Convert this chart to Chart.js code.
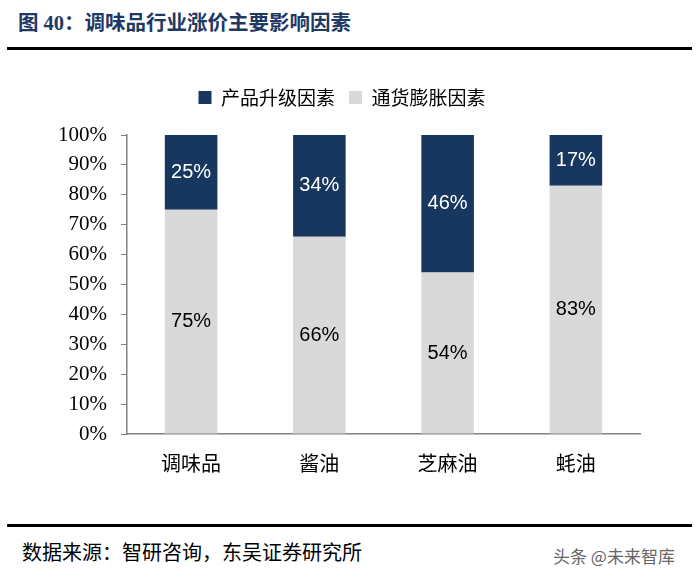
<!DOCTYPE html>
<html>
<head>
<meta charset="utf-8">
<script src="https://cdn.jsdelivr.net/npm/chart.js@4"></script>
<style>
  body { margin: 0; width: 700px; height: 583px; background: #fff; position: relative; overflow: hidden; }
  #title { position: absolute; left: 18px; top: 6px; font: bold 20.5px "Liberation Serif", "Noto Sans CJK SC", serif; color: #1f3864; }
  .rule { position: absolute; left: 7px; width: 685px; height: 3px; background: #000; }
  #wrap { position: absolute; left: 0; top: 74px; width: 700px; height: 418px; }
  #source { position: absolute; left: 22px; top: 537px; font: 20px "Noto Sans CJK SC", serif; color: #000; }
  #mark { position: absolute; left: 553px; top: 543px; font: 17px "Noto Sans CJK SC", sans-serif; color: #666; }
</style>
</head>
<body>
<div id="title">图 40：调味品行业涨价主要影响因素</div>
<div class="rule" style="top:47px"></div>
<div id="wrap"><canvas id="chart"></canvas></div>
<div class="rule" style="top:524px"></div>
<div id="source">数据来源：智研咨询，东吴证券研究所</div>
<div id="mark">头条 @未来智库</div>

<script>
// Chart data
const categories = ['调味品', '酱油', '芝麻油', '蚝油'];
const upgradeShare = [25, 34, 46, 17];     // 产品升级因素
const inflationShare = [75, 66, 54, 83];   // 通货膨胀因素

// Draw the percentage labels in the middle of each bar segment
const segmentLabels = {
    id: 'segmentLabels',
    afterDatasetsDraw(chart) {
        const ctx = chart.ctx;
        ctx.save();
        ctx.font = '20px "Liberation Sans", Arial, sans-serif';
        ctx.textAlign = 'center';
        ctx.textBaseline = 'middle';
        chart.data.datasets.forEach((ds, i) => {
            const meta = chart.getDatasetMeta(i);
            meta.data.forEach((bar, j) => {
                ctx.fillStyle = ds.labelColor;
                ctx.fillText(ds.data[j] + '%', bar.x, (bar.y + bar.base) / 2);
            });
        });
        ctx.restore();
    }
};

// Extra room under the legend
const legendGap = {
    id: 'legendGap',
    beforeInit(chart) {
        const fit = chart.legend.fit;
        chart.legend.fit = function () {
            fit.bind(chart.legend)();
            this.height += 18;
        };
    }
};

new Chart(document.getElementById('chart'), {
    type: 'bar',
    data: {
        labels: categories,
        datasets: [
            { label: '通货膨胀因素', data: inflationShare, backgroundColor: '#d9d9d9', labelColor: '#000' },
            { label: '产品升级因素', data: upgradeShare, backgroundColor: '#17375e', labelColor: '#fff' }
        ]
    },
    options: {
        responsive: true,
        maintainAspectRatio: false,
        animation: false,
        categoryPercentage: 0.41,
        barPercentage: 1,
        layout: { padding: { left: 44, right: 60, top: 0, bottom: 0 } },
        plugins: {
            legend: {
                reverse: true,
                labels: {
                    boxWidth: 13, boxHeight: 13, padding: 14,
                    color: '#000',
                    font: { family: '"Noto Sans CJK SC", serif', size: 19 }
                }
            },
            tooltip: { enabled: false }
        },
        scales: {
            x: {
                stacked: true,
                grid: { display: false, drawTicks: false },
                border: { color: '#808080', width: 1.5 },
                ticks: { color: '#000', padding: 17, font: { family: '"Noto Sans CJK SC", serif', size: 20 } }
            },
            y: {
                stacked: true,
                min: 0, max: 100,
                grid: { drawOnChartArea: false, tickLength: 6, color: '#808080' },
                border: { color: '#808080', width: 1.5 },
                ticks: {
                    stepSize: 10, padding: 14, color: '#000',
                    font: { family: '"Liberation Serif", "Times New Roman", serif', size: 21 },
                    callback: v => v + '%'
                }
            }
        }
    },
    plugins: [segmentLabels, legendGap]
});
</script>
</body>
</html>
